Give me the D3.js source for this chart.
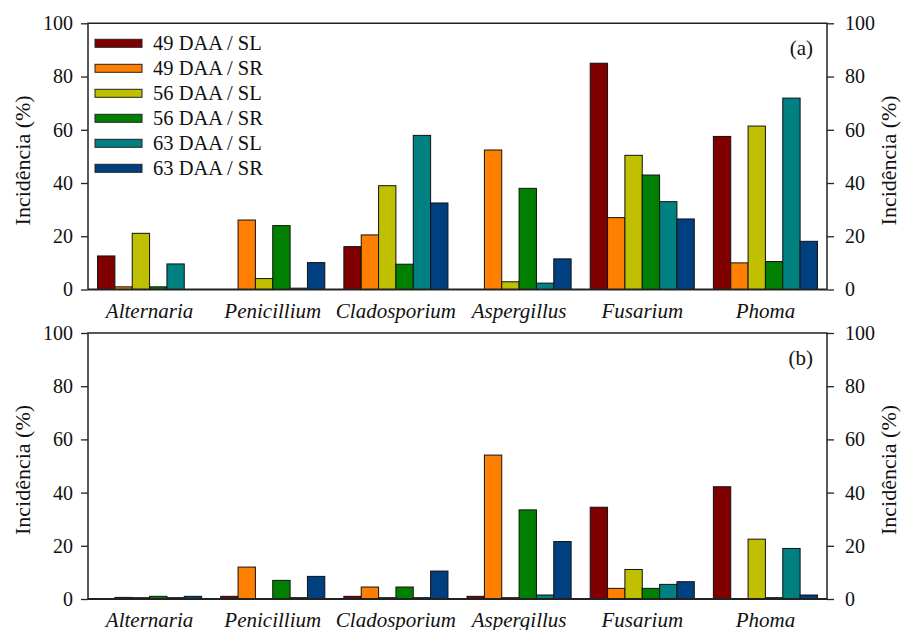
<!DOCTYPE html>
<html>
<head>
<meta charset="utf-8">
<script src="https://cdn.jsdelivr.net/npm/d3@7"></script>
</head>
<body style="margin:0">
<svg id="chart"></svg>
<script>
const fungi = ["Alternaria", "Penicillium", "Cladosporium", "Aspergillus", "Fusarium", "Phoma"];
const series = ["49 DAA / SL", "49 DAA / SR", "56 DAA / SL", "56 DAA / SR", "63 DAA / SL", "63 DAA / SR"];
const yTicks = [0, 20, 40, 60, 80, 100];

// rows = fungi, columns = series
const valuesA = [
  [12.6, 1.0, 21.1, 1.0, 9.6, 0],
  [0, 26.1, 4.1, 24.0, 0.5, 10.1],
  [16.1, 20.5, 39.0, 9.5, 57.9, 32.5],
  [0, 52.4, 2.9, 38.0, 2.4, 11.5],
  [85.0, 27.0, 50.4, 43.0, 33.0, 26.5],
  [57.5, 10.0, 61.4, 10.5, 71.9, 18.1]
];
const valuesB = [
  [0, 0.6, 0.5, 1.0, 0.5, 1.0],
  [1.0, 12.0, 0, 7.0, 0.5, 8.5],
  [1.0, 4.5, 0.5, 4.5, 0.5, 10.5],
  [1.0, 54.1, 0.5, 33.5, 1.5, 21.6],
  [34.5, 4.0, 11.1, 4.0, 5.5, 6.5],
  [42.2, 0, 22.5, 0.5, 19.0, 1.5]
];

const colors = ["#800000", "#ff8000", "#c0c000", "#008000", "#008080", "#004080"];

const W = 908, H = 630;
const left = 88, right = 827;

const svg = d3.select("#chart").attr("width", W).attr("height", H);

const x0 = d3.scaleBand()
  .domain(fungi)
  .range([left, right])
  .paddingInner(0.155)
  .paddingOuter(0.0775);

const x1 = d3.scaleBand()
  .domain(series)
  .range([0, x0.bandwidth()]);

const color = d3.scaleOrdinal().domain(series).range(colors);

function addText(sel, size) {
  return sel.append("text")
    .attr("font-size", size)
    .attr("fill", "#111")
    .style("font-family", "Liberation Serif");
}

function panel(values, top, bottom, tag, withLegend) {
  const y = d3.scaleLinear().domain([0, 100]).range([bottom, top]);
  const g = svg.append("g");

  // bars
  g.selectAll(".grp")
    .data(fungi)
    .enter().append("g")
    .attr("transform", d => `translate(${x0(d)},0)`)
    .selectAll("rect")
    .data((d, i) => series.map((s, j) => ({ s: s, v: values[i][j] })).filter(e => e.v > 0))
    .enter().append("rect")
    .attr("x", d => x1(d.s))
    .attr("width", x1.bandwidth())
    .attr("y", d => y(d.v))
    .attr("height", d => y(0) - y(d.v))
    .attr("fill", d => color(d.s))
    .attr("stroke", "#111")
    .attr("stroke-width", 1);

  // axes, left and right
  const la = g.append("g")
    .attr("transform", `translate(${left},0)`)
    .call(d3.axisLeft(y).tickValues(yTicks).tickSize(7).tickPadding(8));
  const ra = g.append("g")
    .attr("transform", `translate(${right},0)`)
    .call(d3.axisRight(y).tickValues(yTicks).tickSize(7).tickPadding(11));
  [la, ra].forEach(a => {
    a.attr("font-family", null).attr("font-size", 20);
    a.select(".domain").remove();
    a.selectAll(".tick line").attr("stroke", "#222").attr("stroke-width", 1.3);
    a.selectAll("text")
      .attr("fill", "#111")
      .style("font-family", "Liberation Serif");
  });

  // frame
  g.append("path")
    .attr("d", `M${left},${bottom}V${top}H${right}V${bottom}`)
    .attr("fill", "none").attr("stroke", "#222").attr("stroke-width", 1.5);
  g.append("line")
    .attr("x1", left).attr("x2", right)
    .attr("y1", bottom).attr("y2", bottom)
    .attr("stroke", "#222").attr("stroke-width", 2);

  // category labels
  fungi.forEach(f => {
    addText(g, 21)
      .attr("x", x0(f) + x0.bandwidth() / 2)
      .attr("y", bottom + 28)
      .attr("text-anchor", "middle")
      .attr("font-style", "italic")
      .text(f);
  });

  // y titles
  const mid = (top + bottom) / 2 + 4;
  [22, 888].forEach(tx => {
    addText(g, 22)
      .attr("transform", `translate(${tx},${mid}) rotate(-90)`)
      .attr("text-anchor", "middle")
      .attr("dy", "0.35em")
      .text("Incidência (%)");
  });

  addText(g, 21)
    .attr("x", 813).attr("y", top + 32)
    .attr("text-anchor", "end")
    .text(tag);

  if (withLegend) {
    const lg = g.append("g").attr("transform", `translate(95,${top + 20})`);
    series.forEach((s, i) => {
      lg.append("rect")
        .attr("x", 0).attr("y", i * 25 - 4)
        .attr("width", 47).attr("height", 8)
        .attr("fill", color(s))
        .attr("stroke", "#222").attr("stroke-width", 1);
      addText(lg, 20.5)
        .attr("x", 58).attr("y", i * 25 + 6.7)
        .text(s);
    });
  }
}

panel(valuesA, 23.3, 289.5, "(a)", true);
panel(valuesB, 333, 599, "(b)", false);
</script>
</body>
</html>
